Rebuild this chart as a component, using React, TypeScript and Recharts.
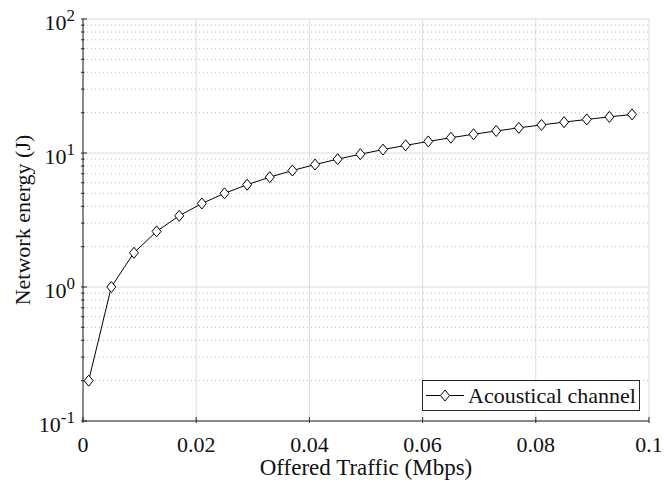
import React from 'react';
import {
  LineChart,
  Line,
  XAxis,
  YAxis,
  CartesianGrid,
  Legend,
} from 'recharts';

const traffic = [
  0.001, 0.005, 0.009, 0.013, 0.017, 0.021, 0.025, 0.029, 0.033, 0.037, 0.041, 0.045, 0.049,
  0.053, 0.057, 0.061, 0.065, 0.069, 0.073, 0.077, 0.081, 0.085, 0.089, 0.093, 0.097,
];
const energy = [
  0.2, 1.0, 1.8, 2.6, 3.4, 4.2, 5.0, 5.8, 6.6, 7.4, 8.2, 9.0, 9.8,
  10.6, 11.4, 12.2, 13.0, 13.8, 14.6, 15.4, 16.2, 17.0, 17.8, 18.6, 19.4,
];
const xTicks = [0, 0.02, 0.04, 0.06, 0.08, 0.1];
const xTickLabels = ['0', '0.02', '0.04', '0.06', '0.08', '0.1'];
const yMajor = [0.1, 1, 10, 100];
const yExponents = ['-1', '0', '1', '2'];
const yMinor = [
  0.2, 0.3, 0.4, 0.5, 0.6, 0.7, 0.8, 0.9,
  2, 3, 4, 5, 6, 7, 8, 9,
  20, 30, 40, 50, 60, 70, 80, 90,
];
const seriesName = 'Acoustical channel';

const data = traffic.map((t, i) => ({ t, e: energy[i] }));

const FONT = '"Liberation Serif", "Times New Roman", serif';
const AXIS = '#262626';

const Diamond = ({ cx, cy }: any) => {
  if (cx == null || cy == null) return null;
  return (
    <path
      d={`M${cx},${cy - 5.5} L${cx + 4.5},${cy} L${cx},${cy + 5.5} L${cx - 4.5},${cy} Z`}
      fill="#fff"
      stroke="#000"
      strokeWidth={1}
    />
  );
};

const BottomTick = ({ x, y, payload }: any) => {
  const idx = xTicks.indexOf(payload.value);
  return (
    <g>
      <line x1={x} y1={y} x2={x} y2={y - 6} stroke={AXIS} />
      <text x={x} y={y + 29} textAnchor="middle" fontFamily={FONT} fontSize={22} fill="#111">
        {idx >= 0 ? xTickLabels[idx] : ''}
      </text>
    </g>
  );
};

const TopTick = ({ x, y }: any) => (
  <line x1={x} y1={y} x2={x} y2={y + 6} stroke={AXIS} />
);

const LeftTick = ({ x, y, payload }: any) => {
  const idx = yMajor.indexOf(payload.value);
  if (idx < 0) {
    return <line x1={x} y1={y} x2={x + 3.5} y2={y} stroke={AXIS} />;
  }
  return (
    <g>
      <line x1={x} y1={y} x2={x + 6} y2={y} stroke={AXIS} />
      <text x={x - 6} y={y + 11} textAnchor="end" fontFamily={FONT} fontSize={22} fill="#111">
        10
        <tspan dy={-9} fontSize={17}>{yExponents[idx]}</tspan>
      </text>
    </g>
  );
};

const RightTick = ({ x, y, payload }: any) => {
  const major = yMajor.includes(payload.value);
  return <line x1={x} y1={y} x2={x - (major ? 6 : 3.5)} y2={y} stroke={AXIS} />;
};

const LegendBox = () => (
  <div
    style={{
      width: 218,
      height: 31,
      boxSizing: 'border-box',
      border: `1px solid ${AXIS}`,
      background: '#fff',
      display: 'flex',
      alignItems: 'center',
      fontFamily: FONT,
      fontSize: 22,
      color: '#111',
      whiteSpace: 'nowrap',
    }}
  >
    <svg width={40} height={29} style={{ marginLeft: 2, flexShrink: 0 }}>
      <line x1={1} y1={14.5} x2={39} y2={14.5} stroke="#000" />
      <Diamond cx={20} cy={14.5} />
    </svg>
    <span style={{ marginLeft: 3 }}>{seriesName}</span>
  </div>
);

export default function App() {
  const allY = [...yMajor, ...yMinor].sort((a, b) => a - b);
  return (
    <div style={{ position: 'absolute', left: 0, top: 0, background: '#fff' }}>
      <LineChart
        width={665}
        height={482}
        data={data}
        margin={{ top: 19, right: 16, left: 0, bottom: 0 }}
      >
        <CartesianGrid
          xAxisId="bottom"
          yAxisId="left"
          stroke="#dcdcdc"
          verticalValues={xTicks}
          horizontalValues={yMajor}
        />
        <CartesianGrid
          xAxisId="bottom"
          yAxisId="left"
          stroke="#bdbdbd"
          strokeDasharray="1 3"
          vertical={false}
          horizontalValues={yMinor}
        />
        <XAxis
          xAxisId="bottom"
          dataKey="t"
          type="number"
          domain={[0, 0.1]}
          ticks={xTicks}
          interval={0}
          height={61}
          tickSize={0}
          tickLine={false}
          tick={<BottomTick />}
          axisLine={{ stroke: AXIS }}
          allowDataOverflow
          label={{
            value: 'Offered Traffic (Mbps)',
            position: 'insideBottom',
            offset: 7,
            style: { fontFamily: FONT, fontSize: 23, fill: '#111' },
          }}
        />
        <XAxis
          xAxisId="top"
          orientation="top"
          dataKey="t"
          type="number"
          domain={[0, 0.1]}
          ticks={xTicks}
          interval={0}
          height={0}
          tickSize={0}
          tickLine={false}
          tick={<TopTick />}
          axisLine={{ stroke: AXIS }}
          allowDataOverflow
        />
        <YAxis
          yAxisId="left"
          type="number"
          scale="log"
          domain={[0.1, 100]}
          ticks={allY}
          interval={0}
          width={83}
          tickSize={0}
          tickLine={false}
          tick={<LeftTick />}
          axisLine={{ stroke: AXIS }}
          allowDataOverflow
          label={{
            value: 'Network energy (J)',
            angle: -90,
            position: 'insideLeft',
            offset: 22,
            style: { textAnchor: 'middle', fontFamily: FONT, fontSize: 22, fill: '#111' },
          }}
        />
        <YAxis
          yAxisId="right"
          orientation="right"
          type="number"
          scale="log"
          domain={[0.1, 100]}
          ticks={allY}
          interval={0}
          width={0}
          tickSize={0}
          tickLine={false}
          tick={<RightTick />}
          axisLine={{ stroke: AXIS }}
          allowDataOverflow
        />
        <Line
          xAxisId="bottom"
          yAxisId="left"
          type="linear"
          dataKey="e"
          name={seriesName}
          stroke="#000"
          strokeWidth={1}
          dot={<Diamond />}
          activeDot={false}
          isAnimationActive={false}
        />
        <Legend
          layout="vertical"
          align="center"
          verticalAlign="middle"
          content={<LegendBox />}
          wrapperStyle={{ left: 422, top: 380, width: 218, height: 31 }}
        />
      </LineChart>
    </div>
  );
}
